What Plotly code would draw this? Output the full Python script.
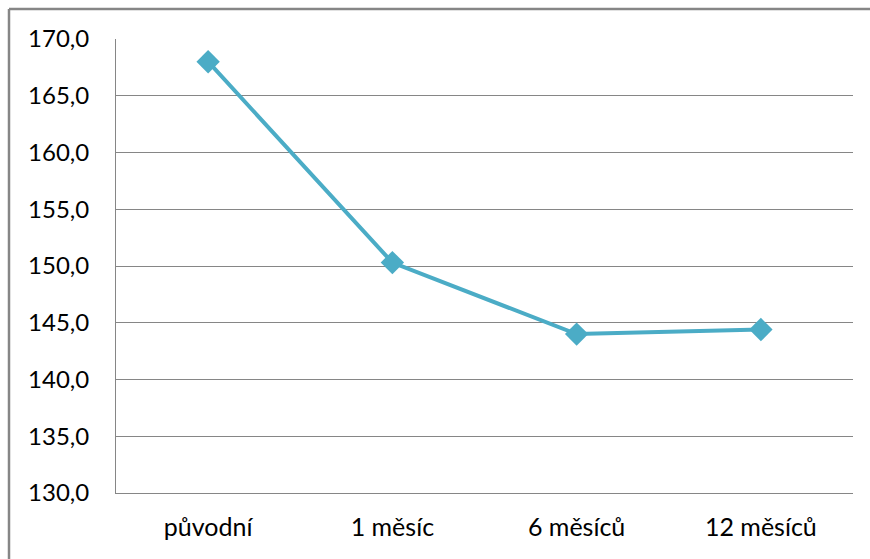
import plotly.graph_objects as go

# Data
categories = ["původní", "1 měsíc", "6 měsíců", "12 měsíců"]
values = [168.0, 150.3, 144.0, 144.4]
y_ticks = [130, 135, 140, 145, 150, 155, 160, 165, 170]

color = "#4bacc6"
font_family = "Lato, 'Open Sans', sans-serif"

fig = go.Figure()
fig.add_trace(go.Scatter(
    x=categories,
    y=values,
    mode="lines+markers",
    line=dict(color=color, width=4),
    marker=dict(symbol="diamond", size=18, color=color),
    showlegend=False,
))

W, H = 870, 559
ml, mr, mt, mb = 116, 17, 39, 66
pw, ph = W - ml - mr, H - mt - mb

# outer chart border (left and top edges visible)
bx0 = (9 - ml) / pw
by1 = 1 + (mt - 9) / ph
fig.add_shape(type="line", xref="paper", yref="paper",
              x0=bx0, x1=1 + 40 / pw, y0=by1, y1=by1,
              line=dict(color="#868686", width=2.5))
fig.add_shape(type="line", xref="paper", yref="paper",
              x0=bx0, x1=bx0, y0=by1, y1=-(mb + 20) / ph,
              line=dict(color="#868686", width=2.5))

fig.update_layout(
    width=W, height=H,
    margin=dict(l=ml, r=mr, t=mt, b=mb),
    paper_bgcolor="white",
    plot_bgcolor="white",
    separators=", ",
    font=dict(family=font_family, size=24, color="#000000"),
    xaxis=dict(
        type="category",
        range=[-0.5, 3.5],
        showgrid=False,
        showline=True,
        linecolor="#868686",
        linewidth=1,
        ticks="",
        tickfont=dict(size=25),
        ticklabelstandoff=12,
        mirror=False,
        zeroline=False,
    ),
    yaxis=dict(
        range=[130, 170],
        tickvals=y_ticks,
        tickformat=".1f",
        showgrid=True,
        gridcolor="#868686",
        gridwidth=1,
        showline=True,
        linecolor="#868686",
        linewidth=1,
        ticks="",
        ticklabelstandoff=21,
        zeroline=False,
        tickfont=dict(size=24),
    ),
)

fig.write_html("out.html")
